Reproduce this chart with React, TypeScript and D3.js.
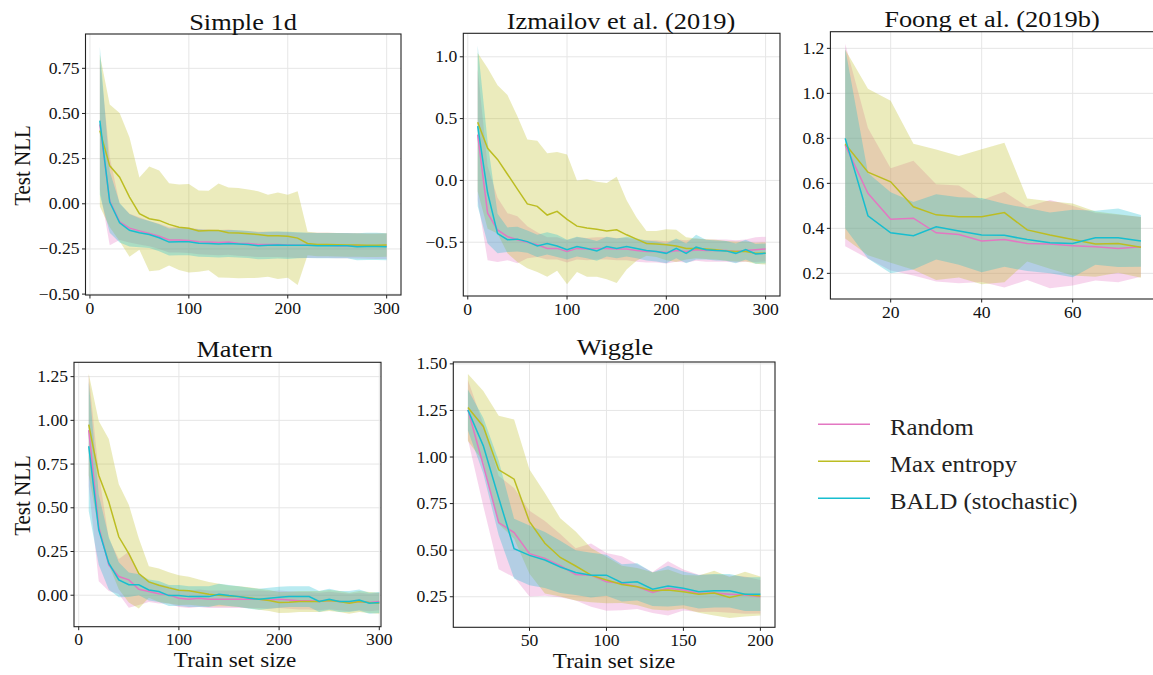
import React from 'react'
import * as d3 from 'd3'

const FONT = '"Liberation Serif", "Times New Roman", serif'
const STRETCH = 1.1 // the source figure is a little wider than tall

const methods = ['Random', 'Max entropy', 'BALD (stochastic)']
const colors = ['#e377c2', '#bcbd22', '#17becf']

// ---- Simple 1d ----
const xSimple = d3.range(10, 301, 10)
const simpleRandom = [0.44, 0.015, -0.10, -0.135, -0.15, -0.165, -0.18, -0.20, -0.20, -0.203, -0.21, -0.212, -0.215, -0.212, -0.218, -0.22, -0.225, -0.225, -0.225, -0.228, -0.23, -0.23, -0.23, -0.23, -0.232, -0.232, -0.233, -0.234, -0.235, -0.235]
const simpleRandomSd = [0.36, 0.245, 0.1, 0.08, 0.075, 0.07, 0.07, 0.07, 0.07, 0.07, 0.07, 0.07, 0.07, 0.07, 0.07, 0.07, 0.07, 0.07, 0.07, 0.07, 0.07, 0.07, 0.07, 0.07, 0.07, 0.07, 0.07, 0.07, 0.07, 0.07]
const simpleMaxEnt = [0.405, 0.21, 0.147, 0.037, -0.055, -0.083, -0.092, -0.114, -0.13, -0.135, -0.151, -0.148, -0.148, -0.16, -0.162, -0.166, -0.17, -0.177, -0.177, -0.18, -0.19, -0.22, -0.225, -0.226, -0.227, -0.228, -0.228, -0.23, -0.23, -0.228]
const simpleMaxEntSd = [0.42, 0.34, 0.355, 0.33, 0.2, 0.29, 0.276, 0.228, 0.237, 0.245, 0.225, 0.22, 0.26, 0.25, 0.25, 0.245, 0.24, 0.227, 0.24, 0.23, 0.26, 0.065, 0.065, 0.065, 0.065, 0.065, 0.065, 0.065, 0.065, 0.065]
const simpleBald = [0.46, 0.01, -0.105, -0.147, -0.16, -0.17, -0.188, -0.212, -0.21, -0.21, -0.218, -0.22, -0.222, -0.22, -0.222, -0.225, -0.232, -0.23, -0.228, -0.23, -0.23, -0.23, -0.232, -0.232, -0.232, -0.232, -0.238, -0.236, -0.236, -0.238]
const simpleBaldSd = [0.41, 0.17, 0.11, 0.09, 0.08, 0.075, 0.075, 0.075, 0.075, 0.075, 0.075, 0.075, 0.075, 0.075, 0.075, 0.075, 0.075, 0.075, 0.075, 0.075, 0.072, 0.07, 0.07, 0.07, 0.07, 0.07, 0.075, 0.075, 0.075, 0.075]

// ---- Izmailov et al. (2019) ----
const xIzm = d3.range(10, 301, 10)
const izmRandom = [0.37, -0.265, -0.40, -0.455, -0.48, -0.50, -0.52, -0.55, -0.55, -0.575, -0.55, -0.555, -0.55, -0.55, -0.555, -0.555, -0.567, -0.575, -0.575, -0.583, -0.567, -0.575, -0.56, -0.567, -0.567, -0.567, -0.575, -0.567, -0.56, -0.555]
const izmRandomSd = [0.53, 0.38, 0.26, 0.19, 0.19, 0.13, 0.1, 0.09, 0.09, 0.09, 0.09, 0.09, 0.09, 0.09, 0.09, 0.09, 0.09, 0.09, 0.09, 0.09, 0.09, 0.09, 0.09, 0.09, 0.09, 0.09, 0.09, 0.09, 0.1, 0.1]
const izmMaxEnt = [0.47, 0.26, 0.17, 0.05, -0.07, -0.19, -0.21, -0.28, -0.25, -0.315, -0.37, -0.385, -0.395, -0.41, -0.40, -0.44, -0.475, -0.51, -0.515, -0.52, -0.53, -0.55, -0.55, -0.555, -0.56, -0.57, -0.575, -0.575, -0.59, -0.59]
const izmMaxEntSd = [0.56, 0.65, 0.6, 0.64, 0.59, 0.52, 0.53, 0.5, 0.48, 0.525, 0.37, 0.395, 0.385, 0.39, 0.43, 0.28, 0.175, 0.1, 0.105, 0.125, 0.13, 0.09, 0.08, 0.08, 0.08, 0.08, 0.08, 0.08, 0.085, 0.09]
const izmBald = [0.44, -0.10, -0.43, -0.48, -0.475, -0.495, -0.53, -0.51, -0.53, -0.56, -0.535, -0.55, -0.57, -0.535, -0.55, -0.535, -0.55, -0.567, -0.575, -0.59, -0.55, -0.59, -0.54, -0.56, -0.567, -0.57, -0.59, -0.56, -0.595, -0.59]
const izmBaldSd = [0.65, 0.41, 0.16, 0.1, 0.1, 0.09, 0.09, 0.09, 0.09, 0.08, 0.08, 0.08, 0.08, 0.08, 0.08, 0.08, 0.08, 0.08, 0.08, 0.08, 0.08, 0.08, 0.1, 0.08, 0.08, 0.08, 0.08, 0.08, 0.08, 0.08]

// ---- Foong et al. (2019b) ----
const xFoong = d3.range(10, 76, 5)
const foongRandom = [0.77, 0.556, 0.44, 0.445, 0.38, 0.373, 0.344, 0.35, 0.333, 0.33, 0.323, 0.318, 0.31, 0.318]
const foongRandomSd = [0.45, 0.29, 0.227, 0.255, 0.216, 0.217, 0.182, 0.213, 0.163, 0.196, 0.177, 0.15, 0.15, 0.133]
const foongMaxEnt = [0.775, 0.65, 0.607, 0.496, 0.46, 0.452, 0.452, 0.47, 0.393, 0.37, 0.35, 0.33, 0.333, 0.316]
const foongMaxEntSd = [0.42, 0.37, 0.36, 0.28, 0.29, 0.27, 0.30, 0.31, 0.14, 0.15, 0.16, 0.145, 0.13, 0.135]
const foongBald = [0.80, 0.456, 0.38, 0.367, 0.407, 0.388, 0.37, 0.369, 0.35, 0.336, 0.333, 0.358, 0.358, 0.344]
const foongBaldSd = [0.4, 0.19, 0.18, 0.15, 0.145, 0.15, 0.165, 0.14, 0.14, 0.135, 0.15, 0.12, 0.13, 0.115]

// ---- Matern ----
const xMatern = d3.range(10, 301, 10)
const maternRandom = [0.944, 0.39, 0.174, 0.107, 0.088, 0.034, 0.021, 0.008, 0.002, -0.017, -0.023, -0.017, -0.023, -0.023, -0.023, -0.023, -0.023, -0.023, -0.027, -0.023, -0.027, -0.032, -0.032, -0.036, -0.030, -0.036, -0.042, -0.036, -0.042, -0.036]
const maternRandomSd = [0.32, 0.31, 0.15, 0.1, 0.16, 0.09, 0.06, 0.055, 0.05, 0.05, 0.05, 0.05, 0.05, 0.05, 0.05, 0.05, 0.05, 0.05, 0.05, 0.05, 0.05, 0.05, 0.05, 0.05, 0.05, 0.05, 0.05, 0.05, 0.05, 0.05]
const maternMaxEnt = [0.976, 0.686, 0.534, 0.334, 0.238, 0.124, 0.076, 0.057, 0.042, 0.029, 0.025, 0.015, 0.006, 0.0, -0.004, -0.008, -0.015, -0.023, -0.03, -0.042, -0.04, -0.036, -0.036, -0.036, -0.03, -0.036, -0.046, -0.036, -0.042, -0.046]
const maternMaxEntSd = [0.29, 0.31, 0.36, 0.3, 0.28, 0.2, 0.09, 0.096, 0.09, 0.085, 0.08, 0.075, 0.07, 0.065, 0.06, 0.06, 0.06, 0.06, 0.06, 0.06, 0.06, 0.06, 0.06, 0.06, 0.06, 0.06, 0.06, 0.06, 0.06, 0.06]
const maternBald = [0.852, 0.374, 0.183, 0.088, 0.06, 0.06, 0.03, 0.021, -0.002, -0.002, -0.008, -0.008, -0.008, 0.006, -0.002, -0.008, -0.017, -0.023, -0.017, -0.011, -0.008, -0.008, -0.008, -0.036, -0.023, -0.036, -0.036, -0.027, -0.046, -0.042]
const maternBaldSd = [0.37, 0.2, 0.15, 0.1, 0.07, 0.06, 0.06, 0.06, 0.06, 0.06, 0.06, 0.06, 0.06, 0.06, 0.06, 0.06, 0.06, 0.06, 0.06, 0.06, 0.06, 0.06, 0.06, 0.06, 0.06, 0.06, 0.06, 0.06, 0.06, 0.06]

// ---- Wiggle ----
const xWiggle = d3.range(10, 201, 10)
const wiggleRandom = [1.254, 0.956, 0.648, 0.594, 0.481, 0.456, 0.417, 0.37, 0.366, 0.33, 0.322, 0.304, 0.273, 0.295, 0.286, 0.268, 0.27, 0.264, 0.259, 0.25]
const wiggleRandomSd = [0.16, 0.22, 0.25, 0.24, 0.23, 0.2, 0.17, 0.14, 0.17, 0.155, 0.145, 0.12, 0.11, 0.145, 0.11, 0.1, 0.1, 0.1, 0.1, 0.09]
const wiggleMaxEnt = [1.266, 1.164, 0.931, 0.881, 0.653, 0.537, 0.461, 0.415, 0.366, 0.34, 0.316, 0.304, 0.282, 0.286, 0.277, 0.264, 0.27, 0.246, 0.264, 0.254]
const wiggleMaxEntSd = [0.18, 0.19, 0.29, 0.32, 0.28, 0.27, 0.21, 0.185, 0.145, 0.125, 0.1, 0.1, 0.1, 0.11, 0.09, 0.1, 0.12, 0.11, 0.12, 0.105]
const wiggleBald = [1.252, 1.06, 0.78, 0.508, 0.472, 0.447, 0.41, 0.38, 0.366, 0.366, 0.325, 0.33, 0.29, 0.307, 0.295, 0.277, 0.282, 0.282, 0.264, 0.264]
const wiggleBaldSd = [0.11, 0.15, 0.2, 0.16, 0.16, 0.15, 0.14, 0.12, 0.12, 0.11, 0.1, 0.1, 0.09, 0.11, 0.09, 0.09, 0.09, 0.09, 0.09, 0.09]

// tick values and labels
const xTicks300 = [0, 100, 200, 300]
const xTicksFoong = [20, 40, 60]
const xTicksWiggle = [50, 100, 150, 200]
const yTicksSimple = [-0.5, -0.25, 0, 0.25, 0.5, 0.75]
const yLabelsSimple = ['\u22120.50', '\u22120.25', '0.00', '0.25', '0.50', '0.75']
const yTicksIzm = [-0.5, 0, 0.5, 1.0]
const yLabelsIzm = ['\u22120.5', '0.0', '0.5', '1.0']
const yTicksFoong = [0.2, 0.4, 0.6, 0.8, 1.0, 1.2]
const yLabelsFoong = ['0.2', '0.4', '0.6', '0.8', '1.0', '1.2']
const yTicksMatern = [0, 0.25, 0.5, 0.75, 1.0, 1.25]
const yLabelsMatern = ['0.00', '0.25', '0.50', '0.75', '1.00', '1.25']
const yTicksWiggle = [0.25, 0.5, 0.75, 1.0, 1.25, 1.5]
const yLabelsWiggle = ['0.25', '0.50', '0.75', '1.00', '1.25', '1.50']

const panels = [
	{
		title: 'Simple 1d', titleX: 243, titleY: 29.5,
		box: { left: 85.5, right: 401, top: 34, bottom: 295 },
		xDomain: [-4.5, 314.5], yDomain: [-0.505, 0.94],
		xs: xSimple, means: [simpleRandom, simpleMaxEnt, simpleBald], sds: [simpleRandomSd, simpleMaxEntSd, simpleBaldSd],
		xTicks: xTicks300, xLabels: xTicks300.map(String), yTicks: yTicksSimple, yLabels: yLabelsSimple,
		ylabel: { x: 29.5, y: 165.5 },
	},
	{
		title: 'Izmailov et al. (2019)', titleX: 621, titleY: 28.5,
		box: { left: 463.3, right: 780, top: 33.3, bottom: 296 },
		xDomain: [-4.5, 314.5], yDomain: [-0.935, 1.19],
		xs: xIzm, means: [izmRandom, izmMaxEnt, izmBald], sds: [izmRandomSd, izmMaxEntSd, izmBaldSd],
		xTicks: xTicks300, xLabels: xTicks300.map(String), yTicks: yTicksIzm, yLabels: yLabelsIzm,
	},
	{
		title: 'Foong et al. (2019b)', titleX: 992, titleY: 26.5,
		box: { left: 830.4, right: 1155.7, top: 31.7, bottom: 299 },
		xDomain: [6.75, 78.25], yDomain: [0.086, 1.274],
		xs: xFoong, means: [foongRandom, foongMaxEnt, foongBald], sds: [foongRandomSd, foongMaxEntSd, foongBaldSd],
		xTicks: xTicksFoong, xLabels: xTicksFoong.map(String), yTicks: yTicksFoong, yLabels: yLabelsFoong,
	},
	{
		title: 'Matern', titleX: 234.5, titleY: 356.5,
		box: { left: 74, right: 381, top: 362.3, bottom: 626.7 },
		xDomain: [-4.7, 301.7], yDomain: [-0.18, 1.332],
		xs: xMatern, means: [maternRandom, maternMaxEnt, maternBald], sds: [maternRandomSd, maternMaxEntSd, maternBaldSd],
		xTicks: xTicks300, xLabels: xTicks300.map(String), yTicks: yTicksMatern, yLabels: yLabelsMatern,
		ylabel: { x: 30, y: 495.5 }, xlabel: { x: 235, y: 667 },
	},
	{
		title: 'Wiggle', titleX: 615, titleY: 355,
		box: { left: 453.3, right: 775, top: 362, bottom: 627.3 },
		xDomain: [0.5, 209.5], yDomain: [0.086, 1.51],
		xs: xWiggle, means: [wiggleRandom, wiggleMaxEnt, wiggleBald], sds: [wiggleRandomSd, wiggleMaxEntSd, wiggleBaldSd],
		xTicks: xTicksWiggle, xLabels: xTicksWiggle.map(String), yTicks: yTicksWiggle, yLabels: yLabelsWiggle,
		xlabel: { x: 614, y: 668 },
	},
]

function SText({ x, y, size, anchor = 'middle', rotate = false, fill = '#111', children }) {
	return (
		<text
			transform={`translate(${x},${y}) scale(${STRETCH},1)${rotate ? ' rotate(-90)' : ''}`}
			textAnchor={anchor}
			fontSize={size}
			fontFamily={FONT}
			fill={fill}
		>
			{children}
		</text>
	)
}

function Panel({ p }) {
	const { box } = p
	const x = d3.scaleLinear().domain(p.xDomain).range([box.left, box.right])
	const y = d3.scaleLinear().domain(p.yDomain).range([box.bottom, box.top])

	const area = (mean, sd) =>
		d3.area()
			.x((d, i) => x(p.xs[i]))
			.y0((d, i) => y(mean[i] - sd[i]))
			.y1((d, i) => y(mean[i] + sd[i]))(mean)
	const line = d3.line().x((d, i) => x(p.xs[i])).y((d) => y(d))

	return (
		<g>
			{/* grid */}
			{p.xTicks.map((t) => (
				<line key={'gx' + t} x1={x(t)} x2={x(t)} y1={box.top} y2={box.bottom} stroke="#e6e6e6" strokeWidth={1} />
			))}
			{p.yTicks.map((t) => (
				<line key={'gy' + t} x1={box.left} x2={box.right} y1={y(t)} y2={y(t)} stroke="#e6e6e6" strokeWidth={1} />
			))}

			{/* bands then means */}
			{p.means.map((m, k) => (
				<path key={'a' + k} d={area(m, p.sds[k])} fill={colors[k]} fillOpacity={0.3} stroke="none" />
			))}
			{p.means.map((m, k) => (
				<path key={'l' + k} d={line(m)} fill="none" stroke={colors[k]} strokeWidth={1.5} />
			))}

			{/* frame */}
			<rect x={box.left} y={box.top} width={box.right - box.left} height={box.bottom - box.top}
				fill="none" stroke="#222" strokeWidth={1.1} />

			{/* ticks */}
			{p.xTicks.map((t, i) => (
				<g key={'tx' + t}>
					<line x1={x(t)} x2={x(t)} y1={box.bottom} y2={box.bottom + 3.5} stroke="#222" strokeWidth={1} />
					<SText x={x(t)} y={box.bottom + 18.5} size={16}>{p.xLabels[i]}</SText>
				</g>
			))}
			{p.yTicks.map((t, i) => (
				<g key={'ty' + t}>
					<line x1={box.left - 3.5} x2={box.left} y1={y(t)} y2={y(t)} stroke="#222" strokeWidth={1} />
					<SText x={box.left - 6} y={y(t) + 5.5} size={16} anchor="end">{p.yLabels[i]}</SText>
				</g>
			))}

			<SText x={p.titleX} y={p.titleY} size={24}>{p.title}</SText>
			{p.ylabel && <SText x={p.ylabel.x} y={p.ylabel.y} size={21} rotate>Test NLL</SText>}
			{p.xlabel && <SText x={p.xlabel.x} y={p.xlabel.y} size={21}>Train set size</SText>}
		</g>
	)
}

function Legend() {
	const rows = d3.scalePoint().domain(methods).range([424.3, 498.3])
	return (
		<g>
			{methods.map((m, k) => (
				<g key={m}>
					<line x1={818} x2={870} y1={rows(m)} y2={rows(m)} stroke={colors[k]} strokeWidth={1.5} />
					<SText x={890} y={rows(m) + 10.7} size={22.5} anchor="start" fill="#222">{m}</SText>
				</g>
			))}
		</g>
	)
}

export default function App() {
	return (
		<svg width={1153} height={675} style={{ position: 'absolute', left: 0, top: 0, background: 'white' }}>
			<rect width={1153} height={675} fill="white" />
			{panels.map((p) => <Panel key={p.title} p={p} />)}
			<Legend />
		</svg>
	)
}
